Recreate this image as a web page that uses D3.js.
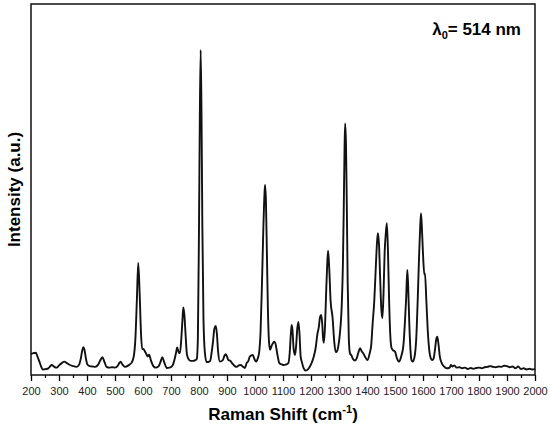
<!DOCTYPE html>
<html>
<head>
<meta charset="utf-8">
<script src="https://cdn.jsdelivr.net/npm/d3@7"></script>
<style>
  body { margin: 0; background: #fff; }
  svg { font-family: "Liberation Sans", Arial, sans-serif; }
  .tick text { font-size: 11px; fill: #222; }
  .axis-title { font-weight: bold; font-size: 17px; }
</style>
</head>
<body>
<svg id="chart"></svg>
<script>
// Raman shift (cm-1) and intensity (a.u.)
const shift = [200,208,217,224,230,236,242,252,262,268,274,279,283,292,300,310,319,328,339,350,363,372,378,383,387,391,396,401,410,420,429,440,447,455,462,470,480,490,500,510,515,520,526,536,548,560,567,573,578,583,588,593,597,601,606,612,617,622,628,637,645,655,662,669,676,685,695,705,712,718,722,728,732,737,741,744,748,752,757,764,770,779,787,792,796,800,803,806,809,812,816,821,827,833,840,845,850,855,860,864,868,875,885,891,895,900,905,911,920,928,935,942,949,956,964,970,975,982,992,998,1004,1010,1015,1020,1025,1030,1034,1036,1039,1042,1046,1050,1054,1060,1065,1069,1073,1080,1087,1094,1101,1110,1119,1124,1128,1131,1134,1138,1143,1147,1151,1155,1159,1163,1167,1174,1181,1190,1202,1210,1216,1223,1228,1232,1236,1240,1243,1246,1250,1254,1258,1261,1265,1270,1277,1283,1288,1292,1297,1303,1310,1314,1317,1320,1322,1325,1328,1331,1335,1339,1345,1350,1357,1363,1369,1375,1381,1387,1394,1402,1410,1415,1420,1426,1432,1436,1439,1443,1447,1451,1455,1459,1463,1467,1471,1475,1479,1483,1488,1494,1500,1507,1515,1522,1530,1536,1540,1544,1547,1551,1555,1559,1563,1570,1576,1581,1586,1590,1593,1597,1601,1605,1607,1612,1617,1622,1628,1633,1638,1643,1647,1651,1655,1660,1667,1675,1685,1695,1700,1705,1712,1720,1730,1740,1750,1760,1770,1780,1790,1800,1810,1820,1830,1840,1850,1860,1870,1880,1890,1900,1910,1920,1930,1940,1950,1960,1970,1980,1990,2000];
const intensity = [5.6,5.9,6.0,4.8,3.6,2.3,1.5,1.6,1.8,2.3,2.7,2.5,2.2,2.0,2.6,3.2,3.6,3.2,2.7,2.4,2.2,2.8,4.5,6.6,7.5,6.8,4.5,2.9,2.4,2.3,2.2,2.8,3.9,4.8,3.6,2.2,2.0,2.1,2.0,2.5,3.2,3.6,2.9,2.2,2.6,3.4,5,10,20,30.2,22,11,7,7.0,6.5,5.6,5.0,5.5,4.0,2.4,2.0,2.3,3.4,4.8,3.4,1.9,2.0,2.5,4,6,7.4,6.0,5.9,10,15,18.2,16,11,5.5,4.1,3.8,3.8,4.0,4.3,10,40,70,87.6,70,40,15,6,3.5,3.5,3.8,6,9,12.5,13.2,11,6.5,3.6,4.0,5.2,5.6,5.0,4.0,3.9,3.0,2.4,2.2,2.6,2.7,2.3,1.9,3.2,3.6,5.0,5.4,4.3,3.6,4.5,6.2,12,25,40,49,51.2,47,35,18,9,6.8,8,8.7,9.0,8.5,5.5,3.2,2.9,2.7,2.8,3.2,6,11,13.5,12,7,5.4,8,12.5,14.3,11,5,3.6,1.8,1.2,1.6,3.2,5,7,11.1,13,15.5,16.2,14,10,8.7,13,22,30,33.5,29,20,15.5,9,6.2,6.3,7.5,11,19.3,30,45,62,67.8,62,45,25,10,5.9,5.2,4.3,3.9,4.5,6.0,7.2,6.4,5.8,4.8,4.0,6,8,13.7,20,30,36,38.2,35,26,18,15.3,22,33,38,40.9,33,20,11,7.2,6.6,6.3,4.5,3.6,5,8,15,21,28.3,24,14,7,4,3.6,5,10,20,32,40,43.6,38,31,27,27.4,20,12,7,4.5,4.0,4.5,7,9.5,10.3,8.5,5,3.2,2.3,1.8,2.0,2.7,2.3,2.6,2.0,2.1,1.8,2.0,1.6,1.9,1.7,1.9,2.0,1.8,2.1,2.2,2.4,2.2,2.1,2.3,2.2,2.5,2.4,2.1,2.3,1.8,2.3,1.6,1.8,1.5,1.7,1.5,1.6];
const xTicks = d3.range(200, 2001, 100);
const xMinorTicks = d3.range(250, 2000, 100);
const xLabel = 'Raman Shift (cm';
const yLabel = 'Intensity (a.u.)';

const width = 550, height = 429;
const margin = {top: 4, right: 15, bottom: 54, left: 31};
const innerW = width - margin.left - margin.right;
const innerH = height - margin.top - margin.bottom;

const svg = d3.select('#chart')
    .attr('width', width)
    .attr('height', height);

const chart = svg.append('g')
    .attr('transform', `translate(${margin.left},${margin.top})`);

const xScale = d3.scaleLinear()
    .domain([200, 2000])
    .range([0, innerW]);

const yScale = d3.scaleLinear()
    .domain([0, 100])
    .range([innerH, 0]);

// minor ticks first, then the labelled ones
chart.append('g')
    .attr('transform', `translate(0,${innerH})`)
    .call(d3.axisBottom(xScale).tickValues(xMinorTicks).tickSize(3).tickFormat(''))
    .call(g => g.select('.domain').remove())
    .call(g => g.selectAll('line').attr('stroke-width', 1.3));

chart.append('g')
    .attr('transform', `translate(0,${innerH})`)
    .call(d3.axisBottom(xScale).tickValues(xTicks).tickSize(6).tickPadding(6).tickFormat(d3.format('d')))
    .call(g => g.select('.domain').remove())
    .call(g => g.selectAll('line').attr('stroke-width', 1.3));

// frame
chart.append('rect')
    .attr('width', innerW)
    .attr('height', innerH)
    .attr('fill', 'none')
    .attr('stroke', '#111')
    .attr('stroke-width', 1.5);

const line = d3.line()
    .x((d, i) => xScale(shift[i]))
    .y(d => yScale(d))
    .curve(d3.curveMonotoneX);

chart.append('path')
    .datum(intensity)
    .attr('fill', 'none')
    .attr('stroke', '#111')
    .attr('stroke-width', 1.9)
    .attr('stroke-linejoin', 'round')
    .attr('d', line);

// axis titles
const xt = svg.append('text')
    .attr('class', 'axis-title')
    .attr('x', margin.left + innerW / 2)
    .attr('y', 420)
    .attr('text-anchor', 'middle')
    .text(xLabel);
xt.append('tspan').attr('dy', -7).attr('font-size', 11).text('-1');
xt.append('tspan').attr('dy', 7).text(')');

svg.append('text')
    .attr('class', 'axis-title')
    .attr('transform', `translate(20,${margin.top + innerH / 2}) rotate(-90)`)
    .attr('text-anchor', 'middle')
    .text(yLabel);

// excitation wavelength note
const note = svg.append('text')
    .attr('x', 521)
    .attr('y', 35)
    .attr('text-anchor', 'end')
    .attr('font-weight', 'bold')
    .attr('font-size', 17)
    .text('λ');
note.append('tspan').attr('dy', 4).attr('font-size', 11).text('0');
note.append('tspan').attr('dy', -4).text('= 514 nm');
</script>
</body>
</html>
